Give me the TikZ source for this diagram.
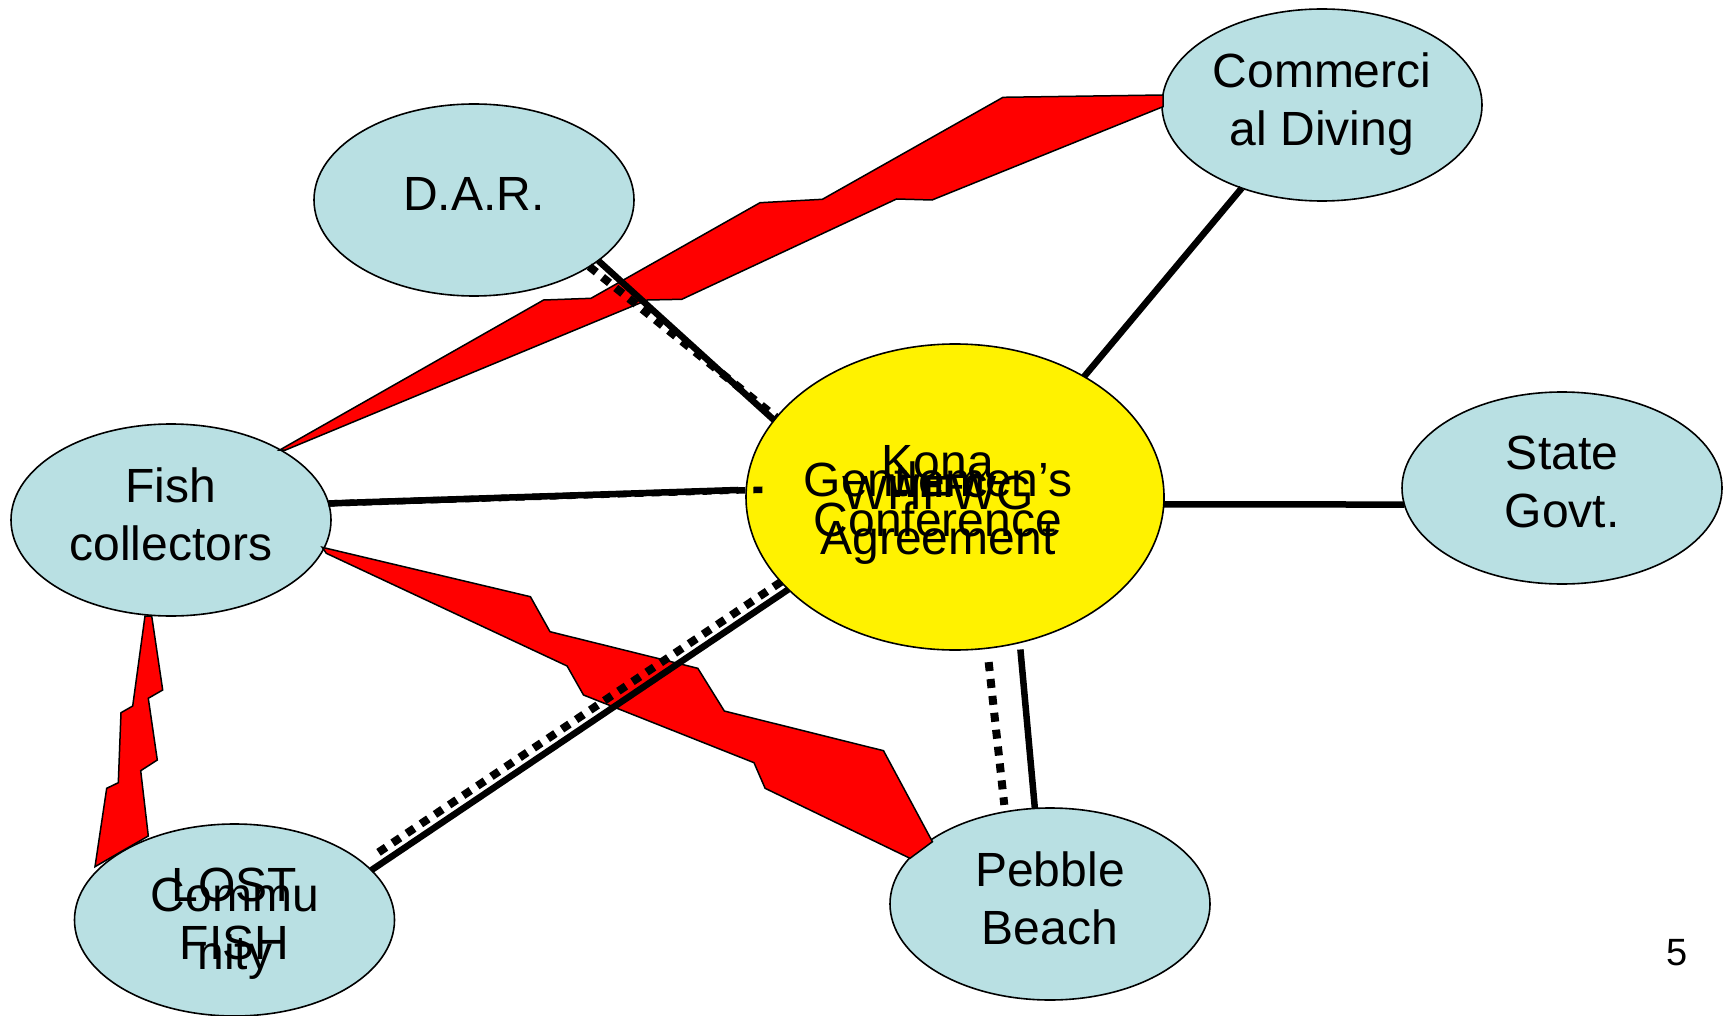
\documentclass[tikz,border=0pt]{standalone}
\usepackage{fontspec}
\setmainfont{Liberation Sans}
\usetikzlibrary{shapes.geometric}
\definecolor{partyblue}{RGB}{185,224,227}

\begin{document}
\begin{tikzpicture}[x=1pt,y=-1pt,
  party/.style={ellipse,draw=black,line width=1.6pt,fill=partyblue,
    minimum width=320pt,minimum height=192pt,inner sep=0pt,outer sep=0pt,
    align=center,font=\SLIDE,text depth=12pt},
  hub/.style={ellipse,draw=black,line width=1.6pt,fill=yellow,
    minimum width=418pt,minimum height=306pt,inner sep=0pt,outer sep=0pt},
  hubtext/.style={align=center,font=\SLIDE,inner sep=0pt},
  solidlink/.style={line width=6.5pt},
  dotlink/.style={line width=8pt,dash pattern=on 9pt off 8pt},
  band/.style={fill=red,draw=black,line width=1.5pt}]

\newcommand\SLIDE{\fontsize{48}{58}\selectfont}

  \useasboundingbox (0,0) rectangle (1728,1016);

  %% parties
  \node[party] (dar)    at (474,200)   {D.A.R.};
  \node[party] (dive)   at (1322,105)  {Commerci\\al Diving};
  \node[party] (fish)   at (171,520)   {Fish\\collectors};
  \node[party] (govt)   at (1562,488)  {State\\Govt.};
  \node[party] (pebble) at (1050,904)  {Pebble\\Beach};
  \node[party] (lost)   at (234.5,920) {LOST\\FISH};
  \node[hubtext] (community) at (235,929) {Commu\\nity};

  %% the working group in the middle
  \node[hub] (hub) at (955,497) {};
  \node[hubtext] (kona)  at (938,491) {Kona\\Conference};
  \node[hubtext] (gent)  at (938,513) {Gentlemen's\\Agreement};
  \node[hubtext] (whfwg) at (938,493) {WHFWG};
  \node[hubtext,font=\fontsize{33}{40}\selectfont\bfseries] (whfc) at (938,486) {WHFC};

  %% conflicts
  \draw[band] (279.7,450) -- (543.6,300) -- (591,298.3) -- (760,202.7)
    -- (822.4,199.3) -- (1003,97.3) -- (1163,95) -- (1163,106.7)
    -- (932,200) -- (896.5,199) -- (681.8,299.3) -- (647.4,300)
    -- (285.6,450) -- cycle; %% fish - diving
  \draw[band] (322.2,547.3) -- (530.4,596.7) -- (550,631.7) -- (697.8,668.3)
    -- (724.3,711) -- (883.5,750.7) -- (932.4,841.7) -- (910,858.3)
    -- (765.1,788.3) -- (754,762.7) -- (583.5,695) -- (567.1,666)
    -- (326.3,553.3) -- cycle; %% fish - pebble
  \draw[band] (145,616) -- (151.7,616) -- (162.7,690) -- (148.3,698.3)
    -- (157.3,760) -- (140.7,770.7) -- (148.3,836) -- (95,866.7)
    -- (106.7,788.3) -- (118.3,782.7) -- (121,712.7) -- (132.7,706)
    -- cycle; %% fish - lost

  %% links to the hub
  \draw[dotlink] (dar.-30) -- (hub.156);
  \draw[solidlink] (dar.-26) -- (hub.157);

  \draw[dotlink,line width=6.5pt] (fish.6) -- ([xshift=17pt]hub.178);
  \draw[solidlink,shorten >=8pt] (fish.6) -- (hub.178);

  \draw[solidlink] (hub.43) -- (dive.226);
  \draw[solidlink] (hub.-2) -- (govt.186);

  \draw[dotlink,shorten <=14pt,shorten >=7pt] (hub.-78) -- (pebble.116);
  \draw[solidlink,shorten <=7pt] (hub.-66) -- (pebble.99);

  \draw[dotlink,shorten >=12pt] (hub.206) -- (lost.24);
  \draw[solidlink] (hub.209) -- (lost.20);

  %% slide number
  \node[font=\fontsize{38}{44}\selectfont] (page) at (1677,953) {5};

\end{tikzpicture}
\end{document}
